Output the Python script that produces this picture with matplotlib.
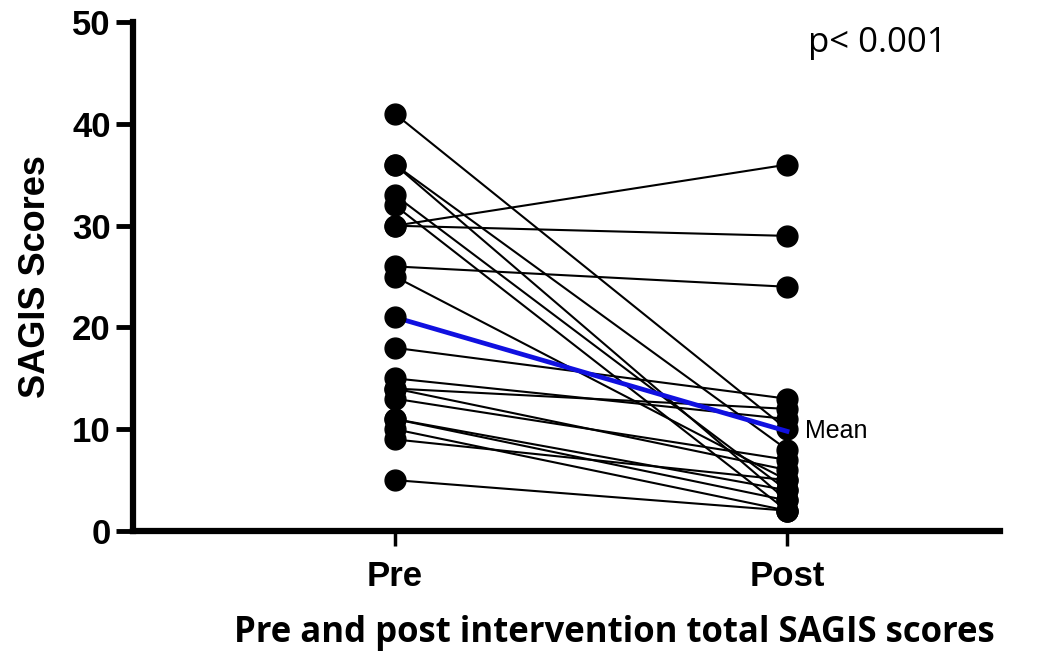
import numpy as np
import matplotlib.pyplot as plt

# Данные: пары Pre -> Post по каждому участнику
pre = [41, 36, 36, 33, 32, 30, 30, 26, 25, 18, 15, 14, 14, 13, 11, 11, 10, 9, 5]
post = [10, 8, 3, 4, 2, 36, 29, 24, 5, 13, 11, 12, 6, 7, 3, 4, 2, 5, 2]
mean_vals = [21, 9.8]
groups = ["Pre", "Post"]

fig = plt.figure(figsize=(10.42, 6.66), dpi=100)
ax = fig.add_axes([0.1276, 0.2027, 0.832, 0.764])

x = [0, 1]
for a, b in zip(pre, post):
    ax.plot(x, [a, b], color="black", lw=1.5, marker="o", ms=15,
            mfc="black", mec="black", zorder=3)

# Среднее
ax.plot(x, mean_vals, color="#1010e0", lw=3.4, zorder=4)
ax.plot(x[0], mean_vals[0], "o", color="black", ms=15, zorder=5)
ax.text(1.045, mean_vals[1], "Mean", fontsize=18, family="Liberation Sans",
        va="center", ha="left")

ax.set_xlim(-0.668, 1.543)
ax.set_ylim(0, 50)
ax.set_yticks([0, 10, 20, 30, 40, 50])
ax.set_xticks(x)
ax.set_xticklabels(groups)

for s in ["top", "right"]:
    ax.spines[s].set_visible(False)
for s in ["left", "bottom"]:
    ax.spines[s].set_linewidth(4.5)
    ax.spines[s].set_capstyle("projecting")

ax.tick_params(axis="y", length=12, width=3.5, labelsize=25, pad=4)
ax.tick_params(axis="x", length=11, width=2.5, labelsize=25, pad=10)
for lab in ax.get_yticklabels() + ax.get_xticklabels():
    lab.set_fontweight("bold")
    lab.set_family("Liberation Sans")

ax.set_ylabel("SAGIS Scores", fontsize=26, fontweight="bold",
              family="Liberation Sans", labelpad=14)

fig.text(0.775, 0.935, "p< 0.001", fontsize=25, family="Open Sans",
         ha="left", va="center")
fig.text(0.59, 0.05, "Pre and post intervention total SAGIS scores",
         fontsize=25, fontweight="bold", family="Open Sans",
         ha="center", va="center")

fig.savefig("out.png", dpi=100)
